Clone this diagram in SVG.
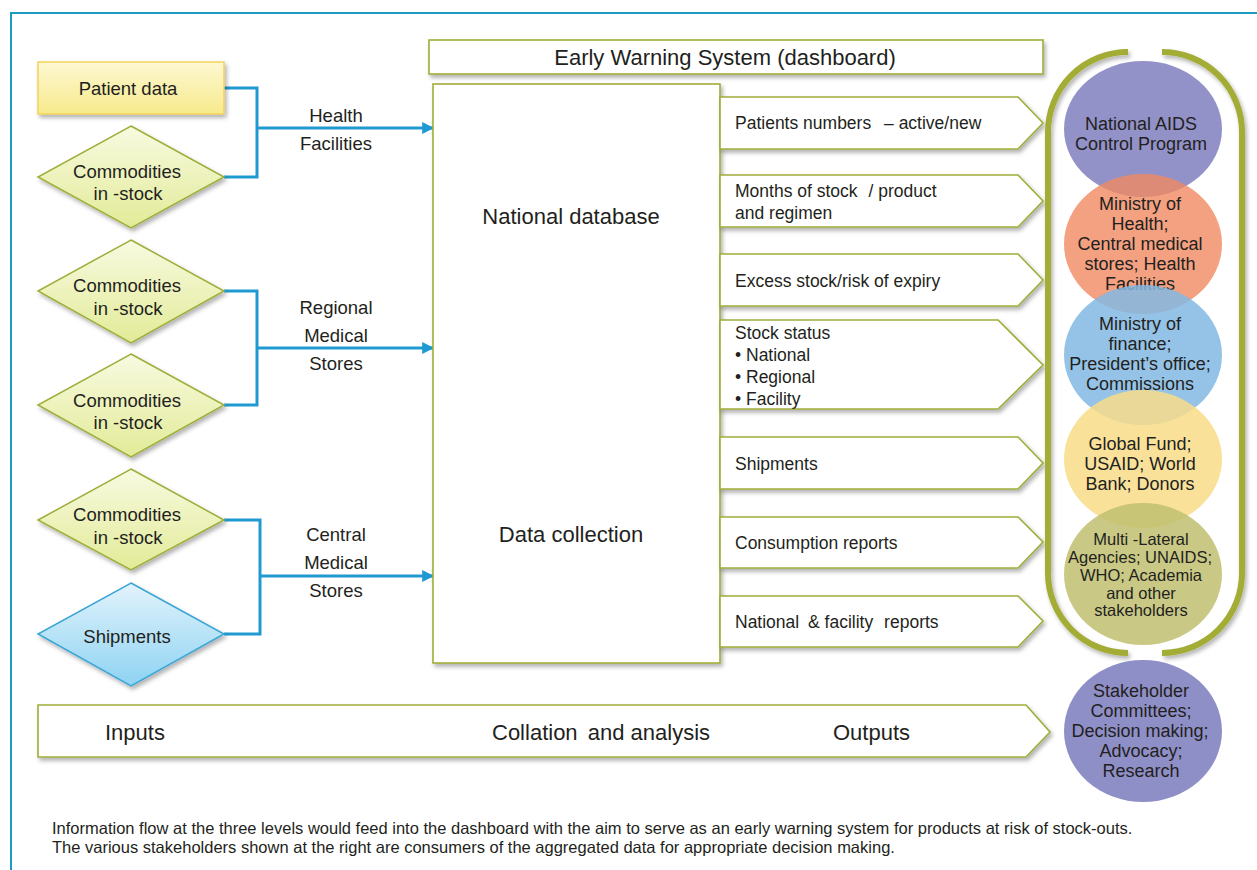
<svg xmlns="http://www.w3.org/2000/svg" width="1257" height="870" viewBox="0 0 1257 870">
<defs>
<linearGradient id="gYel" x1="0" y1="0" x2="0" y2="1"><stop offset="0" stop-color="#fdf8d2"/><stop offset="1" stop-color="#f7ea8c"/></linearGradient>
<linearGradient id="gDia" x1="0" y1="0" x2="0" y2="1"><stop offset="0" stop-color="#f8fae0"/><stop offset="1" stop-color="#e2eb98"/></linearGradient>
<linearGradient id="gBlue" x1="0" y1="0" x2="0" y2="1"><stop offset="0" stop-color="#e2f3fb"/><stop offset="1" stop-color="#8ed3f3"/></linearGradient>
<filter id="sh" x="-10%" y="-10%" width="130%" height="140%"><feDropShadow dx="2" dy="3" stdDeviation="2" flood-color="#000" flood-opacity="0.3"/></filter>
<marker id="arr" viewBox="0 0 10 10" refX="9" refY="5" markerWidth="4" markerHeight="4" orient="auto" markerUnits="strokeWidth"><path d="M0,0 L10,5 L0,10 z" fill="#1e9ad0"/></marker>
<style>
.t{font-family:"Liberation Sans",Arial,sans-serif;fill:#231f20}
.c{text-anchor:middle}
.f18{font-size:18.5px}
.fc{font-size:18px}
.fp{font-size:17.5px}
.f22{font-size:22px}
.dia{fill:url(#gDia);stroke:#9fae3a;stroke-width:1.5}
.box{fill:#fff;stroke:#a0ad3a;stroke-width:1.6}
.conn{fill:none;stroke:#1e9ad0;stroke-width:3}
.el{stroke:none}
</style>
</defs>
<rect width="1257" height="870" fill="#fff"/>
<path d="M11,870 V13 H1257" fill="none" stroke="#1a9bbf" stroke-width="2"/>

<g id="connectors">
<path class="conn" d="M224,88 H257 V177 H224"/>
<path class="conn" d="M257,128 H433" marker-end="url(#arr)"/>
<path class="conn" d="M224,291 H257 V405 H224"/>
<path class="conn" d="M257,348 H433" marker-end="url(#arr)"/>
<path class="conn" d="M224,520 H260 V634 H224"/>
<path class="conn" d="M260,576 H433" marker-end="url(#arr)"/>
</g>

<g id="patient-data">
<rect x="38" y="62" width="186" height="52" fill="url(#gYel)" stroke="#f2d35c" stroke-width="1.5" filter="url(#sh)"/>
<text class="t c f18" x="128" y="95">Patient data</text>
</g>
<g id="commodities-1">
<polygon class="dia" points="131,126 224,177 131,228 38,177" filter="url(#sh)"/>
<text class="t c f18" x="127" y="178">Commodities</text>
<text class="t c f18" x="128" y="200">in -stock</text>
</g>
<g id="commodities-2">
<polygon class="dia" points="131,240 224,291 131,343 38,291" filter="url(#sh)"/>
<text class="t c f18" x="127" y="292">Commodities</text>
<text class="t c f18" x="128" y="315">in -stock</text>
</g>
<g id="commodities-3">
<polygon class="dia" points="131,354 224,405 131,457 38,405" filter="url(#sh)"/>
<text class="t c f18" x="127" y="407">Commodities</text>
<text class="t c f18" x="128" y="429">in -stock</text>
</g>
<g id="commodities-4">
<polygon class="dia" points="131,469 224,520 131,570 38,520" filter="url(#sh)"/>
<text class="t c f18" x="127" y="521">Commodities</text>
<text class="t c f18" x="128" y="544">in -stock</text>
</g>
<g id="shipments-in">
<polygon points="131,583 224,634 131,686 38,634" fill="url(#gBlue)" stroke="#3aa5d5" stroke-width="1.5" filter="url(#sh)"/>
<text class="t c f18" x="127" y="643">Shipments</text>
</g>

<g id="level-labels">
<text class="t c f18" x="336" y="122">Health</text>
<text class="t c f18" x="336" y="150">Facilities</text>
<text class="t c f18" x="336" y="314">Regional</text>
<text class="t c f18" x="336" y="342">Medical</text>
<text class="t c f18" x="336" y="370">Stores</text>
<text class="t c f18" x="336" y="541">Central</text>
<text class="t c f18" x="336" y="569">Medical</text>
<text class="t c f18" x="336" y="597">Stores</text>
</g>

<g id="early-warning">
<rect class="box" x="429" y="40" width="614" height="34" filter="url(#sh)"/>
<text class="t c f22" x="725" y="65">Early Warning System (dashboard)</text>
</g>

<g id="national-db">
<rect class="box" x="433" y="84" width="287" height="579" filter="url(#sh)"/>
<text class="t c f22" x="571" y="224">National database</text>
<text class="t c f22" x="571" y="542">Data collection</text>
</g>

<g id="out-patients">
<polygon class="box" points="720,97 1018,97 1043,123 1018,149 720,149" filter="url(#sh)"/>
<text class="t fp" x="735" y="129">Patients numbers <tspan dx="8">– active/new</tspan></text>
</g>
<g id="out-months">
<polygon class="box" points="720,175 1018,175 1043,201 1018,227 720,227" filter="url(#sh)"/>
<text class="t fp" x="735" y="197">Months of stock <tspan dx="6">/ product</tspan></text>
<text class="t fp" x="735" y="219">and regimen</text>
</g>
<g id="out-excess">
<polygon class="box" points="720,254 1018,254 1043,280 1018,306 720,306" filter="url(#sh)"/>
<text class="t fp" x="735" y="287">Excess stock/risk of expiry</text>
</g>
<g id="out-stock">
<polygon class="box" points="720,320 998,320 1043,365 998,409 720,409" filter="url(#sh)"/>
<text class="t fp" x="735" y="339">Stock status</text>
<text class="t fp" x="735" y="361">• National</text>
<text class="t fp" x="735" y="383">• Regional</text>
<text class="t fp" x="735" y="405">• Facility</text>
</g>
<g id="out-shipments">
<polygon class="box" points="720,437 1018,437 1043,463 1018,489 720,489" filter="url(#sh)"/>
<text class="t fp" x="735" y="470">Shipments</text>
</g>
<g id="out-consumption">
<polygon class="box" points="720,517 1018,517 1043,542 1018,568 720,568" filter="url(#sh)"/>
<text class="t fp" x="735" y="549">Consumption reports</text>
</g>
<g id="out-reports">
<polygon class="box" points="720,596 1018,596 1043,621 1018,647 720,647" filter="url(#sh)"/>
<text class="t fp" x="735" y="628">National <tspan dx="4">&amp; facility</tspan> <tspan dx="6">reports</tspan></text>
</g>

<g id="bracket">
<path d="M1123,52 H1128 A80,80 0 0 0 1048,132 V573 A80,80 0 0 0 1128,653 H1123" fill="none" stroke="#a3ad36" stroke-width="6" filter="url(#sh)"/>
<path d="M1165,52 H1162 A80,80 0 0 1 1242,132 V573 A80,80 0 0 1 1162,653 H1165" fill="none" stroke="#a3ad36" stroke-width="6" filter="url(#sh)"/>
</g>

<g id="nacp">
<ellipse class="el" cx="1143" cy="129" rx="79" ry="68" fill="#8c8cc6" fill-opacity="0.95"/>
<text class="t c fc" x="1141" y="130">National AIDS</text>
<text class="t c fc" x="1141" y="150">Control Program</text>
</g>
<g id="moh">
<ellipse class="el" cx="1143" cy="244" rx="79" ry="70" fill="#f08a62" fill-opacity="0.8"/>
<text class="t c fc" x="1140" y="210">Ministry of</text>
<text class="t c fc" x="1140" y="230">Health;</text>
<text class="t c fc" x="1140" y="250">Central medical</text>
<text class="t c fc" x="1140" y="270">stores; Health</text>
<text class="t c fc" x="1140" y="290">Facilities</text>
</g>
<g id="mof">
<ellipse class="el" cx="1143" cy="355" rx="79" ry="70" fill="#82b9e3" fill-opacity="0.85"/>
<text class="t c fc" x="1140" y="330">Ministry of</text>
<text class="t c fc" x="1140" y="350">finance;</text>
<text class="t c fc" x="1140" y="370">President’s office;</text>
<text class="t c fc" x="1140" y="390">Commissions</text>
</g>
<g id="donors">
<ellipse class="el" cx="1143" cy="459" rx="79" ry="69" fill="#f8dc88" fill-opacity="0.85"/>
<text class="t c fc" x="1140" y="450">Global Fund;</text>
<text class="t c fc" x="1140" y="470">USAID; World</text>
<text class="t c fc" x="1140" y="490">Bank; Donors</text>
</g>
<g id="multilateral">
<ellipse class="el" cx="1143" cy="574" rx="79" ry="71" fill="#bfc070" fill-opacity="0.85"/>
<text class="t c" style="font-size:16.5px" x="1141" y="545">Multi -Lateral</text>
<text class="t c" style="font-size:16.5px" x="1140" y="563">Agencies; UNAIDS;</text>
<text class="t c" style="font-size:16.5px" x="1141" y="581">WHO; Academia</text>
<text class="t c" style="font-size:16.5px" x="1141" y="599">and other</text>
<text class="t c" style="font-size:16.5px" x="1141" y="616">stakeholders</text>
</g>

<g id="bottom-arrow">
<polygon class="box" points="38,705 1026,705 1050,732 1026,757 38,757" filter="url(#sh)"/>
<text class="t f22" x="105" y="740">Inputs</text>
<text class="t f22" x="492" y="740">Collation <tspan dx="4">and analysis</tspan></text>
<text class="t f22" x="833" y="740">Outputs</text>
</g>

<g id="stakeholder-committees">
<ellipse class="el" cx="1143" cy="731" rx="79" ry="71" fill="#8f8fc8"/>
<text class="t c fc" x="1141" y="697">Stakeholder</text>
<text class="t c fc" x="1141" y="717">Committees;</text>
<text class="t c fc" x="1140" y="737">Decision making;</text>
<text class="t c fc" x="1141" y="757">Advocacy;</text>
<text class="t c fc" x="1141" y="777">Research</text>
</g>

<g id="caption">
<text class="t" style="font-size:16.5px" x="52" y="834">Information flow at the three levels would feed into the dashboard with the aim to serve as an early warning system for products at risk of stock-outs.</text>
<text class="t" style="font-size:16.5px" x="52" y="853">The various stakeholders shown at the right are consumers of the aggregated data for appropriate decision making.</text>
</g>
</svg>
